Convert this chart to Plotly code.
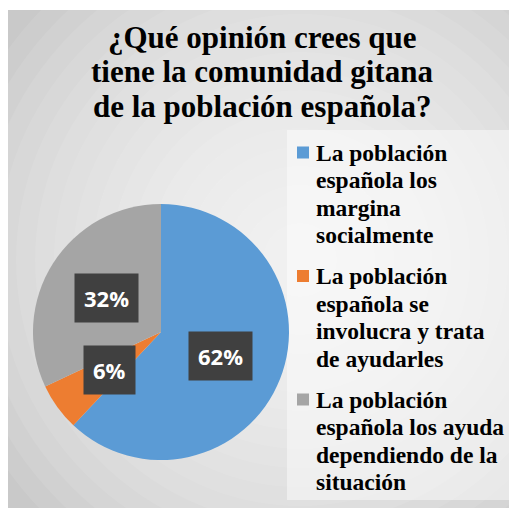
import math
import plotly.graph_objects as go

title_lines = ["¿Qué opinión crees que", "tiene la comunidad gitana", "de la población española?"]
categories = [
    ["La población", "española los", "margina", "socialmente"],
    ["La población", "española se", "involucra y trata", "de ayudarles"],
    ["La población", "española los ayuda", "dependiendo de la", "situación"],
]
values = [62, 6, 32]
colors = ["#5B9BD5", "#ED7D31", "#A5A5A5"]

W, H = 509, 510
SERIF = "Liberation Serif"
dom_x = [33 / W, 289 / W]
dom_y = [1 - 460 / H, 1 - 204 / H]

fig = go.Figure()
fig.add_trace(go.Pie(
    labels=[" ".join(c) for c in categories], values=values, sort=False, direction="clockwise", rotation=0,
    marker=dict(colors=colors, line=dict(width=0)),
    textinfo="none", hoverinfo="label+percent", showlegend=False,
    domain=dict(x=dom_x, y=dom_y),
))

def px(x):
    return x / W

def py(y):
    return 1 - y / H

# background frame with radial-ish gradient
shapes = [dict(type="rect", xref="paper", yref="paper", x0=px(8), x1=1, y0=py(508), y1=py(10),
               fillcolor="#C9C9C9", line=dict(width=0), layer="below")]
gcx, gcy = 300, 260
n = 18
for i in range(n):
    rr = 360 - i * 19
    shapes.append(dict(type="circle", xref="paper", yref="paper",
                       x0=px(gcx - rr), x1=px(gcx + rr), y0=py(gcy + rr), y1=py(gcy - rr),
                       fillcolor="rgba(255,255,255,0.085)", line=dict(width=0), layer="below"))
shapes += [
    dict(type="rect", xref="paper", yref="paper", x0=-0.1, x1=px(8), y0=-0.1, y1=1.1, fillcolor="white", line=dict(width=0), layer="below"),
    dict(type="rect", xref="paper", yref="paper", x0=-0.1, x1=1.1, y0=py(10), y1=1.1, fillcolor="white", line=dict(width=0), layer="below"),
    dict(type="rect", xref="paper", yref="paper", x0=-0.1, x1=1.1, y0=-0.1, y1=py(508), fillcolor="white", line=dict(width=0), layer="below"),
]
# legend box
shapes.append(dict(type="rect", xref="paper", yref="paper", x0=px(287), x1=1, y0=py(500), y1=py(130),
                   fillcolor="rgba(255,255,255,0.45)", line=dict(width=0), layer="below"))

annotations = []
for i, line in enumerate(title_lines):
    annotations.append(dict(text=f"<b>{line}</b>", xref="paper", yref="paper", x=px(262), y=py(38 + 34 * i),
                            xanchor="center", yanchor="middle", showarrow=False,
                            font=dict(family=SERIF, size=31, color="black")))

# legend (manual, one line per annotation)
for k, (lines, col) in enumerate(zip(categories, colors)):
    top = 152.5 + 123.5 * k
    shapes.append(dict(type="rect", xref="paper", yref="paper", x0=px(297), x1=px(309),
                       y0=py(top + 6), y1=py(top - 6), fillcolor=col, line=dict(width=0)))
    for j, line in enumerate(lines):
        annotations.append(dict(text=f"<b>{line}</b>", xref="paper", yref="paper", x=px(314), y=py(top + 27.5 * j),
                                xanchor="left", yanchor="middle", showarrow=False,
                                font=dict(family=SERIF, size=23.5, color="black")))

# data labels at half radius along mid-angle of each slice
cxp = (dom_x[0] + dom_x[1]) / 2 * W
cyp = (1 - (dom_y[0] + dom_y[1]) / 2) * H
r = min((dom_x[1] - dom_x[0]) * W, (dom_y[1] - dom_y[0]) * H) / 2
total = sum(values)
cum = 0
for v in values:
    mid = (cum + v / 2) / total * 2 * math.pi
    cum += v
    lx = cxp + 0.5 * r * math.sin(mid)
    ly = cyp - 0.5 * r * math.cos(mid)
    txt = f"<b>{round(v / total * 100)}%</b>"
    annotations.append(dict(text=txt, xref="paper", yref="paper", x=px(lx), y=py(ly), showarrow=False,
                            xanchor="center", yanchor="middle", bgcolor="#404040", borderpad=9,
                            font=dict(family="Open Sans", size=22, color="white")))

fig.update_layout(
    width=W, height=H, margin=dict(l=0, r=0, t=0, b=0),
    paper_bgcolor="white", plot_bgcolor="white",
    shapes=shapes, annotations=annotations,
)
fig.write_html("out.html", config={"displayModeBar": False},
               post_script="document.body.style.margin='0';")
